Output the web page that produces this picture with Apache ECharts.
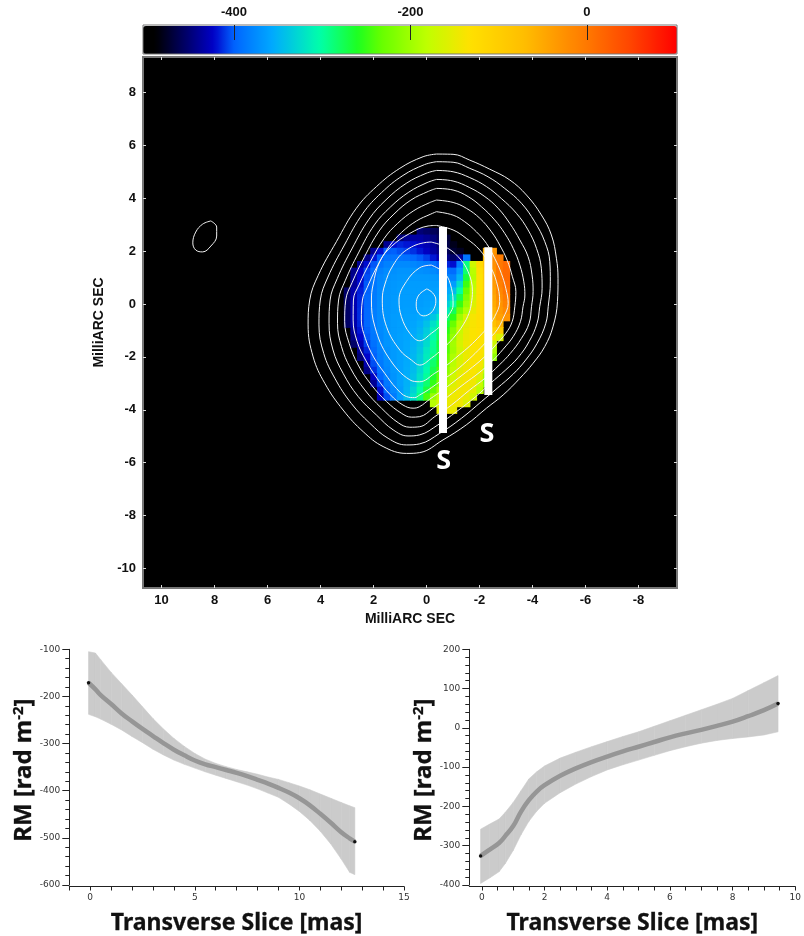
<!DOCTYPE html>
<html>
<head>
<meta charset="utf-8">
<style>html,body{margin:0;padding:0;background:#fff}#c{width:804px;height:936px}</style>
<script src="https://cdn.jsdelivr.net/npm/echarts@6/dist/echarts.min.js"></script>
</head>
<body>
<div id="c"></div>
<script>
const _ = null;
// Colour scale of the rotation-measure map: [RM, r, g, b]
const rmStops = [[-503,0,0,0],[-489,0,0,0],[-423,0,0,200],[-400,0,100,255],[-356,0,170,255],[-303,0,255,170],[-259,30,255,30],[-234,100,255,0],[-182,190,255,0],[-133,255,225,0],[-72,255,190,0],[0,255,120,0],[48,255,70,0],[102,255,0,0]];
const colorBarTicks = [-400,-200,0];

const mapXTicks = [10,8,6,4,2,0,-2,-4,-6,-8];
const mapYTicks = [8,6,4,2,0,-2,-4,-6,-8,-10];

// RM map, read by eye: one row per declination (mas), columns are RA offsets
const rmColumns = [3,2.75,2.5,2.25,2,1.75,1.5,1.25,1,0.75,0.5,0.25,0,-0.25,-0.5,-0.75,-1,-1.25,-1.5,-1.75,-2,-2.25,-2.5,-2.75,-3];
const rmRowY = [2.75,2.5,2.25,2,1.75,1.5,1.25,1,0.75,0.5,0.25,0,-0.25,-0.5,-0.75,-1,-1.25,-1.5,-1.75,-2,-2.25,-2.5,-2.75,-3,-3.25,-3.5,-3.75,-4];
const rmRows = [
[_,_,_,_,_,_,_,_,_,_,_,-450,-455,-460,-465,_,_,_,_,_,_,_,_,_,_],
[_,_,_,_,_,_,_,_,-450,-440,-435,-435,-440,-448,-458,-470,_,_,_,_,_,_,_,_,_],
[_,_,_,_,_,_,-440,-420,-415,-418,-420,-425,-430,-438,-450,-465,-480,_,_,_,_,_,_,_,_],
[_,_,_,_,-440,-420,-402,-400,-405,-408,-412,-418,-425,-435,-445,-460,-472,-478,_,_,_,-60,-30,_,_],
[_,_,_,-445,-418,-400,-392,-390,-390,-392,-396,-402,-408,-418,-430,-445,-455,-440,-390,_,_,-70,-20,-5,_],
[_,_,-440,-420,-403,-390,-382,-378,-376,-376,-378,-382,-386,-392,-402,-415,-420,-385,-290,-170,-120,-80,-25,0,12],
[_,-445,-425,-408,-394,-382,-375,-372,-370,-370,-370,-372,-374,-376,-382,-392,-395,-365,-285,-185,-128,-88,-30,0,14],
[_,-440,-422,-405,-390,-378,-372,-370,-368,-367,-367,-367,-367,-368,-370,-378,-382,-350,-268,-188,-133,-92,-32,-2,14],
[_,-438,-420,-402,-388,-377,-370,-368,-366,-365,-365,-365,-365,-365,-365,-368,-365,-325,-248,-182,-133,-95,-36,-8,10],
[-455,-432,-416,-400,-386,-376,-370,-367,-365,-364,-364,-364,-364,-363,-362,-358,-345,-300,-232,-176,-133,-98,-42,-15,4],
[-455,-430,-414,-398,-385,-375,-369,-366,-365,-364,-364,-364,-363,-362,-358,-348,-325,-275,-218,-168,-132,-100,-48,-22,-3],
[-455,-430,-414,-398,-385,-375,-369,-366,-365,-364,-364,-364,-362,-358,-350,-332,-302,-250,-205,-160,-130,-103,-52,-30,-10],
[-455,-430,-413,-397,-384,-375,-369,-366,-364,-363,-363,-362,-360,-352,-340,-315,-278,-225,-190,-150,-129,-107,-60,-35,-18],
[-455,-430,-413,-397,-384,-375,-369,-365,-364,-362,-361,-358,-352,-338,-318,-288,-255,-200,-165,-140,-128,-112,-68,-42,-28],
[-455,-432,-415,-398,-385,-375,-369,-365,-363,-361,-359,-354,-342,-322,-298,-268,-232,-185,-155,-138,-130,-118,-80,-60,_],
[_,-438,-418,-400,-386,-376,-369,-365,-363,-360,-357,-350,-335,-312,-285,-255,-215,-175,-150,-136,-132,-125,-105,-100,_],
[_,-445,-422,-403,-388,-377,-370,-365,-362,-359,-355,-346,-330,-305,-278,-245,-205,-168,-147,-136,-133,-132,-135,-160,_],
[_,-455,-430,-408,-392,-379,-370,-365,-362,-358,-352,-342,-325,-298,-270,-238,-198,-165,-145,-136,-134,-140,-170,_,_],
[_,_,-440,-415,-396,-381,-372,-366,-362,-357,-350,-338,-318,-295,-272,-240,-200,-170,-150,-137,-134,-142,-190,_,_],
[_,_,-450,-422,-400,-384,-373,-366,-362,-356,-348,-335,-315,-290,-265,-230,-192,-165,-148,-136,-135,-150,-210,_,_],
[_,_,_,-432,-405,-387,-375,-367,-362,-356,-346,-332,-310,-283,-255,-222,-185,-160,-146,-136,-138,-165,_,_,_],
[_,_,_,-445,-412,-392,-378,-368,-362,-355,-345,-328,-305,-275,-245,-212,-178,-155,-144,-137,-145,-185,_,_,_],
[_,_,_,_,-425,-398,-382,-370,-362,-354,-342,-322,-298,-265,-235,-200,-170,-150,-142,-138,-155,-200,_,_,_],
[_,_,_,_,-440,-408,-388,-373,-362,-352,-338,-312,-285,-252,-220,-188,-160,-146,-140,-145,-170,-220,_,_,_],
[_,_,_,_,_,-420,-395,-378,-364,-350,-330,-302,-270,-235,-200,-172,-152,-143,-141,-155,-185,_,_,_,_],
[_,_,_,_,_,-430,-405,-385,-365,-345,-322,-290,-245,-205,-178,-158,-146,-142,-148,-170,_,_,_,_,_],
[_,_,_,_,_,_,_,_,_,_,_,_,_,-185,-165,-150,-143,-145,-160,_,_,_,_,_,_],
[_,_,_,_,_,_,_,_,_,_,_,_,_,_,-155,-145,-150,_,_,_,_,_,_,_,_]
];

// Total-intensity contours in mas, outermost first
const contour1 = [[-0.37,5.67],[-1.00,5.66],[-1.63,5.44],[-2.38,5.10],[-3.14,4.69],[-3.77,4.12],[-4.33,3.37],[-4.71,2.61],[-4.90,1.73],[-4.96,0.97],[-4.94,0.09],[-4.77,-0.86],[-4.46,-1.61],[-4.02,-2.24],[-3.52,-2.81],[-2.89,-3.44],[-2.26,-3.94],[-1.50,-4.57],[-0.62,-5.14],[0.26,-5.62],[0.76,-5.65],[1.64,-5.39],[2.39,-4.83],[3.15,-4.01],[3.84,-3.00],[4.28,-2.00],[4.47,-0.79],[4.41,0.15],[4.09,1.08],[3.40,2.36],[2.65,3.62],[1.89,4.44],[1.01,5.13],[0.13,5.57]];
const contour2 = [[-0.37,5.38],[-1.00,5.36],[-1.63,5.13],[-2.32,4.81],[-2.95,4.37],[-3.58,3.81],[-4.08,3.11],[-4.46,2.36],[-4.65,1.60],[-4.67,0.84],[-4.59,-0.10],[-4.50,-0.73],[-4.17,-1.49],[-3.74,-2.12],[-3.27,-2.65],[-2.66,-3.19],[-2.07,-3.69],[-1.32,-4.32],[-0.50,-4.89],[0.26,-5.29],[0.76,-5.33],[1.45,-5.08],[2.14,-4.51],[2.84,-3.76],[3.46,-2.81],[3.88,-1.87],[4.06,-0.79],[4.01,0.15],[3.72,1.02],[3.10,2.23],[2.40,3.43],[1.70,4.21],[0.89,4.86],[0.08,5.27]];
const contour3 = [[-0.37,5.05],[-1.00,5.00],[-1.63,4.78],[-2.26,4.44],[-2.82,3.99],[-3.39,3.43],[-3.83,2.80],[-4.15,2.10],[-4.33,1.35],[-4.36,0.59],[-4.27,-0.10],[-4.17,-0.73],[-3.87,-1.42],[-3.45,-2.03],[-2.99,-2.49],[-2.41,-3.00],[-1.86,-3.50],[-1.13,-4.07],[-0.43,-4.57],[0.26,-4.95],[0.70,-4.99],[1.26,-4.76],[1.89,-4.20],[2.58,-3.50],[3.15,-2.62],[3.53,-1.74],[3.68,-0.73],[3.64,0.15],[3.37,0.96],[2.82,2.08],[2.17,3.21],[1.53,3.94],[0.77,4.56],[0.02,4.94]];
const contour4 = [[-0.37,4.71],[-1.00,4.65],[-1.63,4.40],[-2.20,4.06],[-2.70,3.62],[-3.14,3.05],[-3.52,2.42],[-3.83,1.79],[-3.98,1.10],[-4.02,0.47],[-3.96,-0.10],[-3.87,-0.73],[-3.58,-1.30],[-3.16,-1.87],[-2.74,-2.31],[-2.20,-2.81],[-1.63,-3.25],[-0.94,-3.82],[-0.31,-4.26],[0.26,-4.64],[0.63,-4.66],[1.07,-4.49],[1.70,-3.94],[2.33,-3.25],[2.87,-2.43],[3.21,-1.61],[3.36,-0.73],[3.32,0.15],[3.07,0.88],[2.57,1.93],[1.97,2.99],[1.36,3.67],[0.67,4.23],[-0.02,4.59]];
const contour5 = [[-0.37,4.37],[-1.00,4.31],[-1.57,4.06],[-2.07,3.68],[-2.57,3.18],[-2.95,2.67],[-3.27,2.10],[-3.52,1.47],[-3.67,0.84],[-3.71,0.34],[-3.64,-0.10],[-3.54,-0.67],[-3.27,-1.23],[-2.89,-1.71],[-2.49,-2.15],[-1.98,-2.60],[-1.42,-3.02],[-0.81,-3.50],[-0.25,-3.94],[0.26,-4.26],[0.57,-4.28],[0.95,-4.13],[1.51,-3.69],[2.08,-3.06],[2.58,-2.31],[2.92,-1.49],[3.09,-0.67],[3.05,0.15],[2.81,0.81],[2.34,1.79],[1.79,2.76],[1.23,3.40],[0.59,3.93],[-0.07,4.26]];
const contour6 = [[-0.37,3.93],[-1.00,3.84],[-1.50,3.62],[-2.01,3.24],[-2.45,2.73],[-2.76,2.23],[-3.04,1.66],[-3.24,1.03],[-3.37,0.47],[-3.33,-0.10],[-3.23,-0.67],[-2.99,-1.11],[-2.61,-1.55],[-2.22,-1.97],[-1.73,-2.39],[-1.19,-2.81],[-0.62,-3.25],[-0.12,-3.60],[0.26,-3.88],[0.51,-3.94],[0.89,-3.82],[1.36,-3.44],[1.87,-2.81],[2.30,-2.12],[2.62,-1.42],[2.77,-0.61],[2.76,0.15],[2.55,0.72],[2.12,1.60],[1.60,2.48],[1.09,3.05],[0.48,3.53],[-0.11,3.83]];
const contour7 = [[-0.37,3.49],[-1.00,3.36],[-1.44,3.11],[-1.88,2.73],[-2.26,2.29],[-2.57,1.73],[-2.82,1.16],[-2.99,0.59],[-3.08,0.02],[-2.89,-0.54],[-2.66,-0.98],[-2.32,-1.36],[-1.94,-1.76],[-1.50,-2.18],[-1.00,-2.60],[-0.50,-2.94],[-0.06,-3.25],[0.26,-3.44],[0.45,-3.54],[0.76,-3.50],[1.14,-3.19],[1.58,-2.62],[2.00,-2.00],[2.31,-1.30],[2.46,-0.61],[2.42,0.15],[2.24,0.62],[1.87,1.41],[1.40,2.19],[0.94,2.71],[0.38,3.14],[-0.16,3.40]];
const contour8 = [[-0.37,2.97],[-1.00,2.80],[-1.50,2.48],[-2.01,2.04],[-2.38,1.47],[-2.64,0.84],[-2.76,0.09],[-2.57,-0.48],[-2.32,-0.86],[-2.01,-1.21],[-1.63,-1.59],[-1.23,-1.93],[-0.77,-2.31],[-0.31,-2.62],[0.26,-2.94],[0.63,-2.87],[1.45,-2.00],[1.95,-0.86],[2.08,0.15],[2.02,0.72],[1.77,1.60],[1.33,2.17],[0.63,2.67],[-0.06,2.95]];
const contour9 = [[-0.18,2.34],[-0.69,2.17],[-1.19,1.79],[-1.57,1.22],[-1.73,0.47],[-1.69,0.02],[-1.60,-0.35],[-1.38,-0.79],[-1.00,-1.30],[-0.62,-1.68],[-0.18,-2.05],[0.26,-2.31],[0.57,-2.12],[1.01,-1.74],[1.51,-0.86],[1.67,0.15],[1.58,0.72],[1.26,1.47],[0.76,2.04],[0.00,2.33]];
const contour10 = [[-0.18,1.47],[-0.69,1.16],[-0.94,0.59],[-1.00,-0.04],[-0.88,-0.35],[-0.56,-0.79],[-0.18,-1.11],[0.26,-1.39],[0.63,-1.11],[0.95,-0.48],[1.04,0.15],[0.76,0.85],[0.26,1.37]];
const contour11 = [[-0.01,0.57],[-0.23,0.42],[-0.35,0.15],[-0.31,-0.11],[-0.16,-0.34],[0.11,-0.45],[0.33,-0.30],[0.39,0.00],[0.29,0.34]];
const beamOutline = [[8.14,3.14],[7.92,2.91],[7.92,2.57],[8.14,2.19],[8.45,1.97],[8.71,2.04],[8.82,2.31],[8.71,2.72],[8.45,3.02]];

// Slice positions and their labels
const slice1Track = [[-0.62,2.91],[-0.62,-4.88]];
const slice2Track = [[-2.33,2.15],[-2.33,-3.44]];
const sliceLabels = [[-0.65,-5.95],[-2.28,-4.92]];

// Left profile
const leftX   = [-0.08,0.25,0.5,1,1.5,2,2.5,3,3.5,4,4.5,5,5.5,6,6.5,7,7.5,8,8.5,9,9.5,10,10.5,11,11.5,12,12.4,12.65];
const leftMid = [-171,-185,-197,-216,-236,-253,-269,-284,-299,-313,-325,-336,-344,-350,-356,-362,-369,-377,-385,-394,-404,-416,-431,-449,-468,-488,-501,-508];
const leftHi  = [-105,-108,-122,-149,-173,-197,-222,-247,-269,-289,-306,-321,-333,-342,-349,-355,-360,-365,-371,-376,-383,-390,-398,-407,-416,-425,-432,-436];
const leftLo  = [-238,-243,-248,-259,-271,-285,-298,-312,-324,-335,-344,-352,-360,-367,-374,-381,-388,-396,-405,-414,-428,-444,-463,-486,-513,-545,-573,-578];
// Right profile
const rightX   = [-0.04,0.25,0.55,0.75,1,1.25,1.5,1.75,2,2.5,3,3.5,4,4.5,5,5.5,6,6.5,7,7.5,8,8.5,9,9.45];
const rightMid = [-326,-310,-293,-275,-250,-213,-184,-162,-146,-122,-103,-87,-73,-60,-48,-36,-24,-14,-5,5,16,30,45,62];
const rightHi  = [-258,-245,-232,-215,-190,-160,-130,-112,-97,-77,-62,-48,-35,-22,-10,4,18,32,46,60,75,95,115,133];
const rightLo  = [-396,-382,-366,-345,-312,-272,-238,-212,-192,-165,-143,-124,-107,-94,-82,-70,-58,-48,-39,-32,-27,-23,-18,-10];

const leftXTicks = [-1,0,1,2,3,4,5,6,7,8,9,10,11,12,13,14,15];
const leftXLabels = [0,5,10,15];
const rightXTicks = [0,0.5,1,1.5,2,2.5,3,3.5,4,4.5,5,5.5,6,6.5,7,7.5,8,8.5,9,9.5,10];
const rightXLabels = [0,2,4,6,8,10];

function rampColor(v){
  let i = 0;
  while (i < rmStops.length-2 && v > rmStops[i+1][0]) i++;
  const a = rmStops[i], b = rmStops[i+1], t = Math.max(0,Math.min(1,(v-a[0])/(b[0]-a[0])));
  const c = [1,2,3].map(k => Math.round(a[k]+(b[k]-a[k])*t));
  return `rgb(${c[0]},${c[1]},${c[2]})`;
}
const rampMin = rmStops[0][0], rampMax = rmStops[rmStops.length-1][0];
const rampColors = [];
for (let k=0;k<=150;k++) rampColors.push(rampColor(rampMin+(rampMax-rampMin)*k/150));

const rmCells = [];
rmRows.forEach((row,r)=>row.forEach((v,c)=>{ if(v!==null) rmCells.push([rmColumns[c],rmRowY[r],v]); }));

const mapFont = {fontFamily:'"Liberation Sans",Arial,sans-serif',fontWeight:'bold',fontSize:13,color:'#111'};
const slFont = {fontFamily:'"DejaVu Sans",sans-serif',fontSize:9,color:'#333'};
const titleFont = {fontFamily:'"Noto Sans",sans-serif',fontWeight:'bold',fontSize:23,color:'#111',textBorderColor:'#111',textBorderWidth:0.3};

function closed(a){return a.concat([a[0]]);}
function contourSeries(a){
  return {type:'line',xAxisIndex:1,yAxisIndex:1,data:closed(a),smooth:0.4,symbol:'none',silent:true,
    lineStyle:{color:'#f2f2f2',width:1},z:5};
}
function bandSeries(xi,yi,xs,hi,lo){
  const d = xs.slice(0,-1).map((x,i)=>[x,hi[i],lo[i],xs[i+1],hi[i+1],lo[i+1]]);
  return {type:'custom',xAxisIndex:xi,yAxisIndex:yi,data:d,silent:true,z:2,encode:{x:[0,3],y:[1,2,4,5]},
    renderItem:(p,api)=>({type:'polygon',
      shape:{points:[api.coord([api.value(0),api.value(1)]),api.coord([api.value(3),api.value(4)]),
                     api.coord([api.value(3),api.value(5)]),api.coord([api.value(0),api.value(2)])]},
      style:{fill:'#cbcbcb',stroke:'#cbcbcb',lineWidth:0.6}})};
}
function midSeries(xi,yi,xs,mid){
  return {type:'line',xAxisIndex:xi,yAxisIndex:yi,data:xs.map((x,i)=>[x,mid[i]]),smooth:0.4,symbol:'none',silent:true,
    lineStyle:{color:'#969696',width:4.5},z:3};
}
function endSeries(xi,yi,xs,mid){
  const n=xs.length-1;
  return {type:'scatter',xAxisIndex:xi,yAxisIndex:yi,data:[[xs[0],mid[0]],[xs[n],mid[n]]],symbolSize:3.5,silent:true,
    itemStyle:{color:'#111',opacity:1},z:4};
}
function slab(d){return {type:'line',xAxisIndex:1,yAxisIndex:1,data:d,symbol:'none',silent:true,lineStyle:{color:'#fff',width:8,cap:'butt'},z:6};}

const slXAxis = (grid,min,max,ticks,labels)=>({type:'value',gridIndex:grid,min,max,position:'bottom',offset:1.5,
  splitLine:{show:false},name:'Transverse Slice [mas]',nameLocation:'middle',nameGap:25,nameTextStyle:titleFont,
  axisLine:{show:true,onZero:false,lineStyle:{color:'#222',width:1}},
  axisTick:{show:true,customValues:ticks,length:4,lineStyle:{color:'#222'}},
  axisLabel:{show:true,customValues:labels,margin:7,...slFont,showMinLabel:true,showMaxLabel:true}});
const slYAxis = (grid,min,max)=>({type:'value',gridIndex:grid,min,max,interval:100,
  splitLine:{show:false},minorSplitLine:{show:false},name:'RM [rad m{sup|-2}]',nameLocation:'middle',nameGap:32,
  nameTextStyle:{...titleFont,fontSize:24,padding:[0,6,0,0],rich:{sup:{fontFamily:titleFont.fontFamily,fontWeight:'bold',fontSize:15,color:'#111',padding:[0,0,10,0]}}},
  axisLine:{show:true,onZero:false,lineStyle:{color:'#222',width:1}},
  axisTick:{show:true,length:7,lineStyle:{color:'#222'}},
  minorTick:{show:true,splitNumber:5,length:4,lineStyle:{color:'#222'}},
  axisLabel:{margin:9,...slFont}});

const option = {
  animation:false,
  backgroundColor:'#fff',
  visualMap:{type:'continuous',seriesIndex:0,dimension:2,min:rampMin,max:rampMax,orient:'horizontal',
    left:143,top:26,itemWidth:28,itemHeight:534,padding:0,calculable:false,realtime:false,text:null,showLabel:false,
    inRange:{color:rampColors},textStyle:{color:'transparent',fontSize:0},z:1},
  grid:[
    {left:143,top:25,width:534,height:29,show:true,backgroundColor:'transparent',borderColor:'#777',borderWidth:1,z:8},
    {left:143,top:57,width:534,height:531,show:true,backgroundColor:'#000',borderColor:'#777',borderWidth:2},
    {left:69.3,top:649.3,width:334.7,height:235.7},
    {left:469.3,top:649.3,width:334.7,height:235.7}
  ],
  xAxis:[
    {type:'value',gridIndex:0,min:rampMin,max:rampMax,position:'top',z:10,splitLine:{show:false},axisLine:{show:false,onZero:false},
      axisTick:{show:true,inside:true,length:15,customValues:colorBarTicks,lineStyle:{color:'#222'}},
      axisLabel:{show:true,customValues:colorBarTicks,margin:6,...mapFont}},
    {type:'value',gridIndex:1,min:-9.45,max:10.7,inverse:true,position:'bottom',splitLine:{show:false},
      name:'MilliARC SEC',nameLocation:'middle',nameGap:23,nameTextStyle:{...mapFont,fontSize:14},
      axisLine:{show:false,onZero:false},
      axisTick:{show:true,inside:true,length:3,customValues:mapXTicks,lineStyle:{color:'#ddd'}},
      axisLabel:{show:true,customValues:mapXTicks,margin:6,...mapFont}},
    {type:'value',gridIndex:1,min:-9.45,max:10.7,inverse:true,position:'top',splitLine:{show:false},axisLine:{show:false,onZero:false},
      axisTick:{show:true,inside:true,length:3,customValues:mapXTicks,lineStyle:{color:'#ddd'}},axisLabel:{show:false}},
    slXAxis(2,-1,15,leftXTicks,leftXLabels),
    slXAxis(3,-0.4,10,rightXTicks,rightXLabels)
  ],
  yAxis:[
    {type:'value',gridIndex:0,min:0,max:1,show:false},
    {type:'value',gridIndex:1,min:-10.74,max:9.34,position:'left',splitLine:{show:false},
      name:'MilliARC SEC',nameLocation:'middle',nameGap:32,nameTextStyle:{...mapFont,fontSize:14},
      axisLine:{show:false,onZero:false},
      axisTick:{show:true,inside:true,length:3,customValues:mapYTicks,lineStyle:{color:'#ddd'}},
      axisLabel:{show:true,customValues:mapYTicks,margin:7,...mapFont}},
    {type:'value',gridIndex:1,min:-10.74,max:9.34,position:'right',splitLine:{show:false},axisLine:{show:false,onZero:false},
      axisTick:{show:true,inside:true,length:3,customValues:mapYTicks,lineStyle:{color:'#ddd'}},axisLabel:{show:false}},
    slYAxis(2,-600,-100),
    slYAxis(3,-400,200)
  ],
  series:[
    {type:'custom',xAxisIndex:1,yAxisIndex:1,data:rmCells,silent:true,z:2,encode:{x:0,y:1},
      renderItem:(p,api)=>{
        const x=api.value(0),y=api.value(1);
        const a=api.coord([x+0.125,y+0.125]),b=api.coord([x-0.125,y-0.125]);
        return {type:'rect',shape:{x:a[0],y:a[1],width:b[0]-a[0]+0.8,height:b[1]-a[1]+0.8},style:{fill:api.visual('color')}};
      }},
    contourSeries(contour1),contourSeries(contour2),contourSeries(contour3),contourSeries(contour4),contourSeries(contour5),
    contourSeries(contour6),contourSeries(contour7),contourSeries(contour8),contourSeries(contour9),contourSeries(contour10),contourSeries(contour11),
    contourSeries(beamOutline),
    slab(slice1Track),slab(slice2Track),
    {type:'scatter',xAxisIndex:1,yAxisIndex:1,data:sliceLabels,symbolSize:1,itemStyle:{color:'#000',opacity:1},silent:true,z:7,
      label:{show:true,position:'inside',formatter:'S',color:'#fff',fontFamily:'"Open Sans",sans-serif',fontWeight:'bold',fontSize:27}},
    bandSeries(3,3,leftX,leftHi,leftLo),midSeries(3,3,leftX,leftMid),endSeries(3,3,leftX,leftMid),
    bandSeries(4,4,rightX,rightHi,rightLo),midSeries(4,4,rightX,rightMid),endSeries(4,4,rightX,rightMid)
  ]
};
echarts.init(document.getElementById('c')).setOption(option);
</script>
</body>
</html>
